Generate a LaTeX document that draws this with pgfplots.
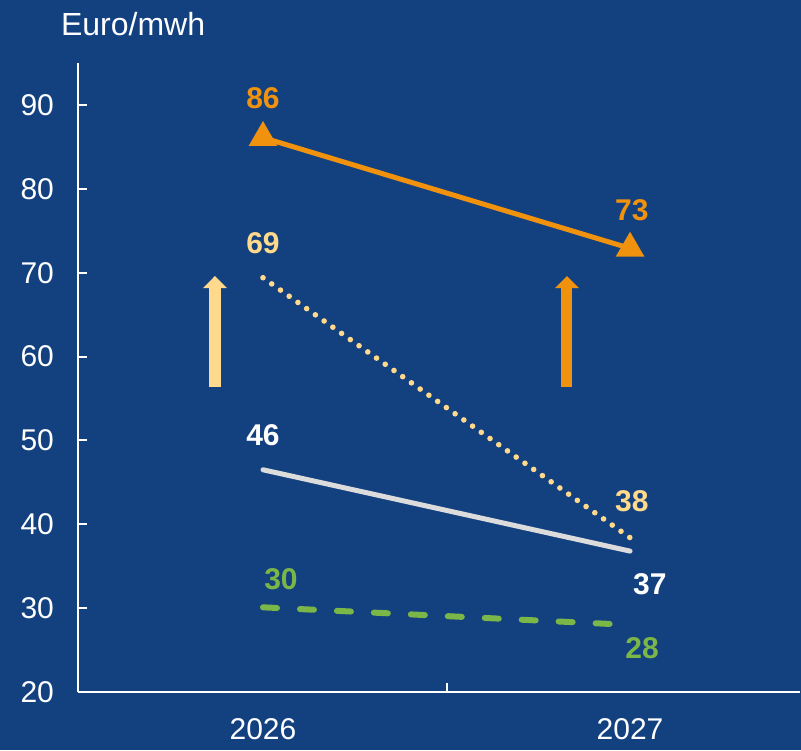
\documentclass[border=0pt]{standalone}
\usepackage{pgfplots}
\pgfplotsset{compat=1.18}
\usepackage{fontspec}
\setmainfont{Liberation Sans}
\usetikzlibrary{arrows.meta}
\definecolor{bg}{RGB}{19,65,128}
\definecolor{orange1}{RGB}{240,146,14}
\definecolor{yellow1}{RGB}{255,217,140}
\definecolor{green1}{RGB}{122,182,72}
\definecolor{gray1}{RGB}{220,220,220}
\begin{document}
\begin{tikzpicture}
\fill[bg] (0,0) rectangle (400.5pt,375pt);
\useasboundingbox (0,0) rectangle (400.5pt,375pt);
\begin{axis}[
  at={(39pt,29pt)}, anchor=south west,
  scale only axis, width=361pt, height=314.5pt,
  xmin=-0.504, xmax=1.463, ymin=20, ymax=95,
  clip=false,
  axis lines=left,
  axis line style={white, line width=1pt, -},
  xtick={0,1}, xticklabels={2026,2027},
  ytick={20,30,40,50,60,70,80,90},
  /pgf/number format/assume math mode=true,
  tick align=inside,
  major tick length=4.5pt,
  xtick style={draw=none},
  ytick style={draw=white, line width=1pt},
  extra x ticks={0.5}, extra x tick labels={},
  extra x tick style={xtick style={draw=white, line width=1pt}},
  yticklabel style={font=\fontsize{15}{17}\selectfont, text=white, xshift=-8.5pt},
  xticklabel style={font=\fontsize{15}{17}\selectfont, text=white, yshift=-9.5pt},
]
\addplot[orange1, line width=2.5pt, mark=triangle*, mark size=5.8pt, mark options={solid, fill=orange1}] coordinates {(0,86.1) (1,72.9)};
\addplot[yellow1, line width=2.8pt, line cap=round, dash pattern=on 0pt off 5.35pt] coordinates {(0,69.4) (1,38.4)};
\addplot[gray1, line width=2.5pt, line cap=round] coordinates {(0,46.5) (1,36.8)};
\addplot[green1, line width=3pt, line cap=round, dash pattern=on 7pt off 11.5pt] coordinates {(0,30.1) (1,28.0)};

\draw[yellow1, line width=6pt, -{Triangle[width=11.5pt,length=6pt]}] (axis cs:-0.131,56.4) -- (axis cs:-0.131,69.6);
\draw[orange1, line width=5.5pt, -{Triangle[width=11.5pt,length=6pt]}] (axis cs:0.828,56.4) -- (axis cs:0.828,69.6);

\node[font=\bfseries\fontsize{15}{17}\selectfont, text=orange1] at (axis cs:0,90.83) {86};
\node[font=\bfseries\fontsize{15}{17}\selectfont, text=orange1] at (axis cs:1.005,77.4) {73};
\node[font=\bfseries\fontsize{15}{17}\selectfont, text=yellow1] at (axis cs:0,73.5) {69};
\node[font=\bfseries\fontsize{15}{17}\selectfont, text=yellow1] at (axis cs:1.005,42.7) {38};
\node[font=\bfseries\fontsize{15}{17}\selectfont, text=white] at (axis cs:0,50.6) {46};
\node[font=\bfseries\fontsize{15}{17}\selectfont, text=white] at (axis cs:1.054,32.8) {37};
\node[font=\bfseries\fontsize{15}{17}\selectfont, text=green1] at (axis cs:0.049,33.4) {30};
\node[font=\bfseries\fontsize{15}{17}\selectfont, text=green1] at (axis cs:1.033,25.2) {28};
\node[font=\fontsize{16}{18}\selectfont, text=white] at (axis cs:-0.354,99.7) {Euro/mwh};
\end{axis}
\end{tikzpicture}
\end{document}
